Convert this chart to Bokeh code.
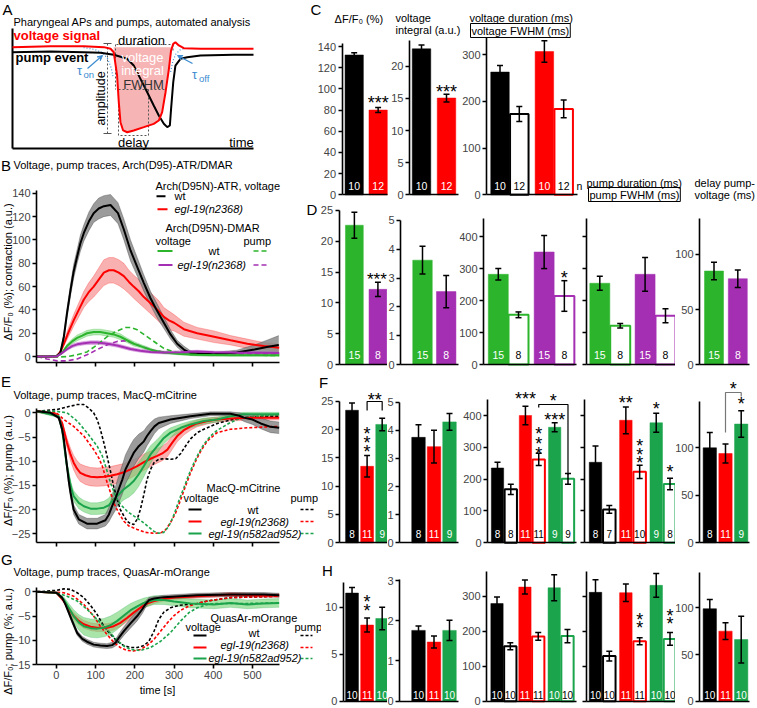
import math
from bokeh.plotting import figure
from bokeh.layouts import row, column
from bokeh.models import Range1d, LinearAxis, FixedTicker, Label, Arrow, VeeHead, ColumnDataSource
from bokeh.embed import file_html
from bokeh.resources import INLINE

# ============================ DATA ============================
# A: schematic (time a.u., signal a.u.)
sch_volt_t = [0, 15.8, 29.6, 37.9, 40.7, 42.0, 43.4, 44.1, 44.8, 45.9, 47.6, 50.3, 54.5, 58.6, 60.7, 62.1, 63.5, 64.9, 65.8, 66.7, 67.6, 69.0, 71.1, 78.0, 100]
sch_volt = [85.9, 86.7, 86.7, 85.9, 84.5, 81.6, 61.9, 39.3, 22.3, 15.3, 13.8, 15.3, 18.1, 20.9, 23.7, 30.8, 47.7, 67.5, 83.1, 88.7, 90.1, 87.3, 85.0, 84.5, 84.5]
sch_pump_t = [0, 15.8, 29.6, 36.5, 42.0, 47.6, 50.3, 53.1, 55.9, 58.6, 60.7, 62.8, 64.2, 65.3, 65.8, 66.7, 67.6, 69.7, 72.5, 78.0, 91.8, 100]
sch_pump = [81.6, 82.2, 81.6, 81.1, 79.4, 76.0, 70.3, 59.0, 47.7, 36.4, 28.0, 20.9, 18.1, 19.5, 33.6, 56.2, 70.3, 76.0, 77.4, 78.8, 79.4, 79.4]
tau_on_t = [29.5, 34, 37.5, 39.5, 41, 41.8]
tau_on_s = [85.5, 84, 81, 76, 68, 60]
tau_off_t = [65.6, 66.5, 67.8, 69.5, 71.5]
tau_off_s = [65, 74, 80, 83.5, 85]

time_ticks = [0, 100, 200, 300, 400, 500]

# B: Arch(D95N) traces
b_wt_atr_t = [-50, -20, 0, 10, 19, 27, 36, 44, 53, 61, 70, 83, 95, 108, 121, 138, 157, 172, 189, 206, 223, 240, 257, 274, 291, 308, 325, 342, 400, 460, 505, 540, 567]
b_wt_atr = [0, 0, 0.5, 3, 17, 37, 57, 73, 86, 97, 106, 116, 123, 127, 129, 130, 123, 109, 91, 77, 63, 50, 39, 29, 19, 11, 6, 3, 2, 3.5, 6, 8.5, 10]
b_wt_atr_sem = [0.5, 0.5, 0.5, 1, 3, 4, 5, 6, 6, 7, 7, 8, 8, 9, 9, 9, 9, 9, 9, 8, 7, 6, 6, 5, 4, 3, 3, 2, 1.5, 2, 4, 6, 8]
b_egl_atr_t = [-50, 0, 10, 19, 31, 44, 57, 70, 82, 95, 108, 121, 134, 146, 159, 172, 185, 197, 210, 223, 236, 249, 261, 274, 287, 300, 325, 359, 402, 444, 487, 529, 568]
b_egl_atr = [0, 0, 4, 11, 21, 31, 40, 49, 55, 60, 66, 72, 74, 74, 72, 69, 64, 60, 56, 51, 47, 43, 39, 34, 31, 29, 23.5, 20, 17, 14, 11, 9, 7.5]
b_egl_atr_sem = [0.5, 0.5, 1, 2, 4, 5, 6, 7, 8, 9, 10, 11, 11, 11, 11, 11, 10, 10, 10, 9, 9, 9, 9, 8, 8, 7, 6, 5, 5, 4, 4, 3, 3]
b_wt_dmar_v_t = [-50, 0, 14, 27, 40, 53, 66, 78, 95, 112, 129, 146, 163, 180, 197, 214, 231, 249, 274, 317, 359, 444, 568]
b_wt_dmar_v = [0, 0, 3, 9, 13, 16, 18, 20, 21, 21, 20, 19, 17, 14, 11, 9, 7, 5, 3.5, 2.3, 1.5, 1.2, 1.2]
b_wt_dmar_v_sem = [0.3, 0.3, 1, 1.5, 2, 2.5, 2.5, 2.5, 2.5, 2.5, 2.5, 2.5, 2.5, 2, 2, 1.5, 1.5, 1, 1, 1, 1, 1, 1]
b_wt_dmar_p_t = [-49, 0, 27, 53, 78, 104, 129, 155, 176, 189, 206, 223, 240, 257, 274, 300, 334, 402, 568]
b_wt_dmar_p = [0, -0.5, 0, 1.5, 4, 10, 17, 22, 25, 25, 23, 19, 15, 11, 7, 4, 2.3, 1.4, 1]
b_egl_dmar_v_t = [-50, 0, 14, 27, 40, 53, 70, 87, 104, 121, 138, 155, 172, 189, 214, 240, 274, 317, 359, 402, 444, 568]
b_egl_dmar_v = [0, 0, 3, 6.3, 9, 10.5, 11.5, 12, 12, 11.5, 10.5, 9.5, 8, 6.5, 5, 4, 3.5, 3.7, 4.3, 3.7, 3.5, 3]
b_egl_dmar_v_sem = [0.3, 0.3, 0.8, 1.2, 1.5, 1.5, 1.5, 1.6, 1.6, 1.6, 1.5, 1.5, 1.5, 1.4, 1.3, 1.2, 1.2, 1.2, 1.2, 1.1, 1.1, 1.0]
b_egl_dmar_p_t = [-49, -24, 2, 27, 53, 78, 104, 129, 155, 172, 189, 214, 240, 274, 317, 402, 568]
b_egl_dmar_p = [0, -2, -3.7, -3.7, -2, 1.5, 6, 10, 13, 13.5, 12, 9, 6, 3.7, 2.5, 2.3, 2.3]

# E: MacQ-mCitrine traces
e_wt_v_t = [-49, -15, 6, 14.5, 19, 23, 27, 31.5, 36, 44, 57, 78, 104, 125, 134, 142, 151, 159, 168, 176, 189, 197, 210, 223, 231, 240, 250, 261, 291, 342, 393, 444, 466, 478, 500, 521, 546, 568]
e_wt_v = [0.3, 0, -1, -3.4, -5.5, -8.3, -11, -14.1, -16.5, -20, -22, -22.9, -22.9, -22.2, -21, -19.3, -17.6, -15.8, -13.8, -11.7, -9.6, -8.3, -6.9, -5.9, -4.8, -3.8, -2.8, -2.1, -1.4, -0.7, -0.2, -0.2, -0.6, -1, -1.4, -2.2, -2.9, -3.1]
e_wt_v_sem = [0.2, 0.2, 0.3, 0.5, 0.6, 0.7, 0.8, 0.9, 1, 1, 1, 1.1, 1.1, 1.2, 1.5, 2, 2.5, 2.8, 3, 3, 3, 2.8, 2.5, 2.2, 2, 1.8, 1.5, 1.2, 0.8, 0.5, 0.4, 0.4, 0.6, 0.8, 1, 1.1, 1.2, 1.2]
e_n2368_v_t = [-49, 0, 14.5, 27, 36, 44, 53, 61, 74, 87, 104, 121, 138, 155, 172, 189, 206, 223, 240, 257, 270, 283, 295, 308, 325, 342, 359, 385, 410, 444, 495, 568]
e_n2368_v = [0.3, -0.3, -2.1, -6.2, -8.6, -10.3, -11.6, -12.4, -12.9, -13.2, -13.3, -13.2, -13.0, -12.7, -12.3, -11.7, -11.0, -10.2, -9.5, -8.9, -8.4, -7.6, -6.2, -4.8, -3.6, -2.8, -2.2, -1.7, -1.4, -1.2, -1.0, -1.0]
e_n2368_v_sem = [0.2, 0.3, 0.5, 1, 1.3, 1.5, 1.7, 1.8, 1.9, 1.9, 1.9, 1.9, 1.9, 1.9, 1.8, 1.8, 1.7, 1.7, 1.6, 1.5, 1.5, 1.5, 1.4, 1.2, 1, 0.8, 0.7, 0.6, 0.5, 0.5, 0.5, 0.5]
e_n582_v_t = [-49, 6, 14.5, 19, 25.5, 31.5, 37.5, 44, 57, 70, 87, 104, 121, 134, 146, 159, 172, 185, 197, 210, 223, 240, 257, 274, 291, 317, 342, 376, 410, 444, 478, 568]
e_n582_v = [0.3, -0.7, -3.4, -6.2, -10.3, -13.1, -15.5, -17.2, -18.6, -19.3, -19.8, -19.8, -19.6, -19.1, -17.9, -16.9, -15.8, -15.0, -14.1, -12.7, -11.0, -8.6, -6.9, -5.2, -4.1, -3.1, -2.4, -1.7, -1.4, -0.7, -0.3, -0.3]
e_n582_v_sem = [0.2, 0.3, 0.5, 0.6, 0.8, 1, 1, 1.1, 1.2, 1.2, 1.2, 1.2, 1.3, 1.5, 1.8, 2, 2.2, 2.4, 2.5, 2.5, 2.2, 1.8, 1.4, 1.2, 1, 0.8, 0.7, 0.6, 0.5, 0.5, 0.4, 0.4]
e_wt_p_t = [-49, 2, 27, 53, 70, 82, 95, 104, 112, 121, 129, 138, 146, 155, 163, 172, 180, 189, 197, 206, 214, 223, 231, 240, 249, 261, 274, 291, 304, 317, 329, 342, 359, 376, 410, 444, 478, 529, 568]
e_wt_p = [0.3, 0.7, 1.2, 1.7, 1.7, 1.0, 0, -1.4, -3.4, -6.2, -8.9, -12.1, -15.2, -17.9, -20, -21.3, -22.4, -22.9, -23.1, -22.0, -20, -16.9, -13.8, -11.7, -10.3, -9.6, -9.5, -9.6, -9.5, -8.4, -6.9, -5.4, -4.1, -3.4, -2.2, -1.5, -1.0, -0.7, -0.7]
e_n2368_p_t = [-49, 0, 19, 44, 70, 95, 108, 117, 127, 138, 148, 159, 172, 185, 206, 227, 249, 266, 278, 291, 304, 317, 329, 342, 355, 368, 385, 410, 444, 487, 568]
e_n2368_p = [0.3, 0, -1.4, -2.8, -4.8, -7.6, -9.3, -11.0, -13.8, -16.5, -18.9, -20.7, -22.4, -23.4, -24.1, -24.7, -24.9, -24.8, -24.2, -22.7, -20.7, -17.9, -15.2, -12.4, -10.0, -7.9, -5.8, -4.1, -3.4, -3.1, -2.8]
e_n582_p_t = [-49, 0, 27, 53, 78, 104, 117, 128, 138, 151, 163, 180, 197, 214, 231, 249, 261, 274, 287, 300, 312, 325, 338, 351, 363, 376, 393, 410, 427, 444, 461, 478, 529, 568]
e_n582_p = [0.3, 0.3, 0, -1.7, -4.1, -6.9, -8.9, -11.7, -14.5, -17.2, -18.9, -20.3, -21.3, -22.2, -23.3, -24.5, -24.9, -24.7, -23.4, -21.0, -18.2, -15.5, -12.7, -10.3, -8.3, -6.5, -4.8, -3.6, -2.8, -2.0, -1.4, -1.0, -0.6, -0.3]

# G: QuasAr-mOrange traces
g_wt_v_t = [-49, 0, 14.5, 23, 31.5, 40, 53, 66, 78, 95, 112, 129, 142, 151, 159, 172, 189, 206, 219, 227, 236, 249, 274, 317, 359, 444, 529, 568]
g_wt_v = [0, -0.2, -1.2, -2.6, -4.3, -6.0, -8.5, -9.7, -10.3, -10.9, -11.1, -11.2, -11.0, -10.5, -9.5, -8.1, -6.5, -5.0, -3.6, -2.6, -1.7, -1.4, -1.1, -0.9, -0.7, -0.55, -0.55, -0.7]
g_wt_v_sem = [0.1, 0.1, 0.2, 0.3, 0.4, 0.5, 0.5, 0.5, 0.5, 0.5, 0.5, 0.5, 0.6, 0.7, 0.8, 0.9, 1, 1, 0.9, 0.7, 0.5, 0.4, 0.4, 0.4, 0.4, 0.4, 0.4, 0.4]
g_n2368_v_t = [-49, 0, 19, 31.5, 44, 57, 70, 87, 104, 129, 146, 163, 180, 197, 214, 231, 249, 274, 300, 359, 444, 529, 568]
g_n2368_v = [0, -0.2, -1.9, -3.6, -5.0, -6.0, -6.7, -7.2, -7.4, -7.4, -7.1, -6.4, -5.4, -4.3, -3.3, -2.4, -1.9, -1.5, -1.2, -0.9, -0.55, -0.75, -0.75]
g_n2368_v_sem = [0.1, 0.1, 0.3, 0.5, 0.7, 0.8, 0.8, 0.8, 0.8, 0.8, 0.8, 0.8, 0.8, 0.8, 0.7, 0.6, 0.5, 0.4, 0.4, 0.4, 0.4, 0.4, 0.4]
g_n582_v_t = [-49, 0, 19, 31.5, 44, 57, 70, 87, 104, 121, 138, 155, 172, 189, 206, 223, 249, 274, 300, 342, 402, 444, 487, 529, 568]
g_n582_v = [0, -0.2, -1.6, -3.3, -5.0, -6.3, -7.1, -7.5, -7.6, -7.4, -6.9, -6.0, -4.9, -3.8, -3.0, -2.3, -1.7, -1.7, -2.0, -2.4, -2.6, -2.3, -2.6, -2.4, -2.3]
g_n582_v_sem = [0.1, 0.1, 0.5, 0.9, 1.3, 1.6, 1.8, 1.9, 1.9, 1.9, 1.9, 1.8, 1.6, 1.4, 1.2, 1.0, 0.9, 0.9, 0.9, 0.9, 0.9, 0.9, 0.9, 0.9, 0.9]
g_wt_p_t = [-49, 0, 19, 36, 53, 70, 87, 104, 121, 138, 155, 172, 189, 206, 223, 236, 249, 261, 274, 291, 312, 338, 359, 385, 444, 568]
g_wt_p = [0, 0.3, 0.6, 0.5, -0.2, -1.2, -2.8, -4.7, -7.1, -8.8, -10.2, -11.1, -11.5, -11.5, -11.1, -10.2, -8.1, -5.7, -4.2, -3.3, -2.8, -2.6, -2.4, -1.9, -1.2, -0.9]
g_n2368_p_t = [-49, 0, 19, 44, 70, 95, 112, 129, 146, 163, 180, 197, 214, 231, 249, 266, 283, 300, 317, 334, 359, 385, 444, 568]
g_n2368_p = [0, -0.1, -0.2, -0.9, -2.6, -5.0, -7.1, -8.8, -10.4, -11.5, -12.1, -12.2, -11.9, -11.1, -9.8, -8.1, -6.4, -4.9, -3.8, -3.1, -2.4, -1.9, -1.2, -0.9]
g_n582_p_t = [-49, 0, 27, 53, 78, 104, 129, 155, 172, 189, 214, 240, 266, 291, 317, 338, 359, 385, 410, 444, 487, 568]
g_n582_p = [0, -0.2, -0.9, -1.9, -3.6, -5.7, -7.8, -10.0, -11.2, -11.9, -12.1, -11.5, -10.2, -8.4, -6.0, -4.3, -3.3, -2.6, -2.4, -2.4, -2.4, -2.3]

# C: Arch(D95N)-ATR bars (wt, egl-19(n2368))
c_dff = [132, 80]
c_dff_sem = [2, 2.4]
c_int = [22.7, 15.05]
c_int_sem = [0.6, 0.6]
c_dur = [263, 173, 307, 184]          # duration, FWHM (wt), duration, FWHM (egl-19)
c_dur_sem = [14, 16, 23, 19]
c_n = [10, 12]
c_dur_n = [10, 12, 10, 12]
c_dff_ticks = [0, 20, 40, 60, 80, 100, 120, 140]
c_int_ticks = [0, 5, 10, 15, 20]
c_dur_ticks = [0, 100, 200, 300]

# D: Arch(D95N)-DMAR bars (wt, egl-19(n2368))
d_dff = [22.6, 12.2]
d_dff_sem = [2.1, 1.15]
d_int = [3.62, 2.53]
d_int_sem = [0.48, 0.56]
d_vdur = [283, 156, 353, 215]
d_vdur_sem = [18, 9, 52, 48]
d_pdur = [255, 122, 283, 153]
d_pdur_sem = [22, 7, 53, 22]
d_delay = [85, 78]
d_delay_sem = [8, 8]
d_n = [15, 8]
d_dur_n = [15, 8, 15, 8]
d_dff_ticks = [0, 5, 10, 15, 20, 25]
d_int_ticks = [0, 1, 2, 3, 4, 5]
d_dur_ticks = [0, 100, 200, 300, 400]
delay_ticks = [0, 50, 100]

# F: MacQ-mCitrine bars (wt, n2368, n582ad952)
f_dff = [23.4, 13.5, 20.9]
f_dff_sem = [1.3, 1.9, 1.1]
f_int = [3.75, 3.42, 4.3]
f_int_sem = [0.45, 0.58, 0.3]
f_vdur = [235, 168, 400, 262, 363, 201]
f_vdur_sem = [18, 16, 29, 19, 14, 17]
f_pdur = [253, 105, 385, 223, 377, 185]
f_pdur_sem = [51, 12, 42, 21, 30, 18]
f_delay = [100, 94, 125]
f_delay_sem = [16, 10, 14]
f_n = [8, 11, 9]
f_vdur_n = [8, 8, 11, 11, 9, 9]
f_pdur_n = [8, 7, 11, 10, 9, 8]
f_dff_ticks = [0, 5, 10, 15, 20, 25]
f_int_ticks = [0, 1, 2, 3, 4, 5]
f_dur_ticks = [0, 100, 200, 300, 400]

# H: QuasAr-mOrange bars (wt, n2368, n582ad952)
h_dff = [11.5, 8.1, 8.8]
h_dff_sem = [0.6, 0.75, 1.2]
h_int = [1.76, 1.47, 1.76]
h_int_sem = [0.11, 0.15, 0.25]
h_vdur = [279, 157, 326, 185, 324, 186]
h_vdur_sem = [19, 10, 20, 11, 37, 19]
h_pdur = [311, 129, 310, 171, 331, 178]
h_pdur_sem = [36, 14, 25, 10, 34, 18]
h_delay = [99, 75, 66]
h_delay_sem = [10, 9, 25]
h_n = [10, 11, 10]
h_dur_n = [10, 10, 11, 11, 10, 10]
h_dff_ticks = [0, 5, 10]
h_int_ticks = [0, 1, 2, 3]
h_dur_ticks = [0, 100, 200, 300]

# ============================ STYLE / GEOMETRY ============================
SX = 756.0 / 757.0
SY = 707.0 / 708.0
FONT = "Liberation Sans"
AXW = 1.6
BLACK = "#000000"
RED = "#fe0000"
GREEN_B = "#2cb52c"
GREEN_F = "#1ba44c"
MAG = "#a52fb2"
BLUE = "#3b8bd0"


def X(v):
    return int(round(v * SX))


def Y(v):
    return int(round(v * SY))


def fs(px):
    return "%.1fpx" % px


class Panel:
    """A figure whose frame fills its whole box; xcal / ycal map reference pixels to data."""
    def __init__(self, box, xcal, ycal):
        x0, y0, x1, y1 = box
        (pa, va), (pb, vb) = xcal
        (qa, wa), (qb, wb) = ycal
        self.kx = (vb - va) / float(pb - pa)
        self.pa, self.va = pa, va
        self.ky = (wb - wa) / float(qb - qa)
        self.qa, self.wa = qa, wa
        self.p = figure(width=X(x1) - X(x0), height=Y(y1) - Y(y0),
                        x_range=Range1d(self.dx(x0), self.dx(x1)),
                        y_range=Range1d(self.dy(y1), self.dy(y0)),
                        x_axis_type=None, y_axis_type=None, toolbar_location=None,
                        output_backend="svg", title=None, frame_align=False,
                        min_border_left=0, min_border_right=0,
                        min_border_top=0, min_border_bottom=0)
        self.p.outline_line_color = None

    def dx(self, px):
        return self.va + (px - self.pa) * self.kx

    def dy(self, py):
        return self.wa + (py - self.qa) * self.ky


def txt(pn, px, py, text, size=11.0, align="left", color="black", style="normal",
        angle=0.0, baseline="middle", **kw):
    pn.p.add_layout(Label(x=pn.dx(px), y=pn.dy(py), text=text, text_font=FONT,
                          text_font_size=fs(size), text_align=align, text_baseline=baseline,
                          text_color=color, text_font_style=style, angle=angle, **kw))


def star(pn, px, py, s, size=18.0):
    txt(pn, px, py + 0.27 * size, s, size=size, align="center", baseline="alphabetic")


def pline(pn, pts, color="black", width=1.2, dash="solid", alpha=1.0):
    pn.p.line([pn.dx(a) for a, b in pts], [pn.dy(b) for a, b in pts],
              line_color=color, line_width=width, line_dash=dash, line_alpha=alpha)


def yaxis(pn, at_px, ticks, lo, hi, labels=True, size=11.0):
    ax = LinearAxis(fixed_location=pn.dx(at_px), ticker=FixedTicker(ticks=ticks), bounds=(lo, hi),
                    major_tick_out=4, major_tick_in=0, major_label_standoff=2,
                    axis_line_width=AXW, major_tick_line_width=AXW,
                    major_label_text_font=FONT, major_label_text_font_size=fs(size),
                    minor_tick_line_color=None)
    if not labels:
        ax.major_label_text_color = None
    pn.p.add_layout(ax, "left")


def xaxis(pn, at_py, ticks, lo, hi, labels=False, size=11.0):
    ax = LinearAxis(fixed_location=pn.dy(at_py), ticker=FixedTicker(ticks=ticks), bounds=(lo, hi),
                    major_tick_out=4 if ticks else 0, major_tick_in=0, major_label_standoff=2,
                    axis_line_width=AXW, major_tick_line_width=AXW,
                    major_label_text_font=FONT, major_label_text_font_size=fs(size),
                    minor_tick_line_color=None)
    if not labels:
        ax.major_label_text_color = None
    pn.p.add_layout(ax, "below")


def trace(pn, t, v, sem=None, color="black", band=None, alpha=0.6, dash="solid", width=2.0):
    if sem is not None:
        lo = [a - b for a, b in zip(v, sem)]
        hi = [a + b for a, b in zip(v, sem)]
        pn.p.varea(x=t, y1=lo, y2=hi, fill_color=band, fill_alpha=alpha)
        pn.p.line(t, lo, line_color=color, line_alpha=0.3, line_width=0.8)
        pn.p.line(t, hi, line_color=color, line_alpha=0.3, line_width=0.8)
    else:
        pn.p.line(t, v, line_color=color, line_width=width, line_dash=dash)


def trace_line(pn, t, v, color, width=2.0):
    pn.p.line(t, v, line_color=color, line_width=width)


def bar_panel(box, axis_px, end_px, zero_py, cal, c0, slot, pos, bw, vals, sems, kinds,
              cols, ns, ticks, ytop_py, labels=True, n_off=9.0, n_size=10.5):
    pn = Panel(box, ((c0, 0.0), (c0 + slot, 1.0)), ((zero_py, 0.0), cal))
    p = pn.p
    yaxis(pn, axis_px, ticks, 0, pn.dy(ytop_py), labels=labels)
    xaxis(pn, zero_py, [], pn.dx(axis_px), pn.dx(end_px))
    src = ColumnDataSource(dict(
        x=pos, top=vals,
        fc=[c if k == "f" else "white" for c, k in zip(cols, kinds)],
        lc=cols,
        lw=[0.5 if k == "f" else 2.0 for k in kinds]))
    p.vbar(x="x", top="top", bottom=0, width=bw / slot, fill_color="fc", line_color="lc",
           line_width="lw", source=src)
    lo = [v - e for v, e in zip(vals, sems)]
    hi = [v + e for v, e in zip(vals, sems)]
    p.segment(x0=pos, y0=lo, x1=pos, y1=hi, line_color="black", line_width=1.5)
    cw = 3.0 / slot
    for yy in (lo, hi):
        p.segment(x0=[x - cw for x in pos], y0=yy, x1=[x + cw for x in pos], y1=yy,
                  line_color="black", line_width=1.5)
    for i, n in enumerate(ns):
        txt(pn, c0 + pos[i] * slot, zero_py - n_off, str(n), size=n_size, align="center",
            color="white" if kinds[i] == "f" else "black")
    pn.c0 = c0
    pn.slot = slot
    pn.pos = pos
    return pn


def bx(pn, i):
    return pn.c0 + pn.pos[i] * pn.slot


POS2 = [0, 1]
POS3 = [0, 1, 2]

# ============================ PANEL A ============================
A = Panel((0, 0, 300, 152), ((12, 0), (253, 100)), ((148, 0), (30, 100)))
pa = A.p
pa.varea(x=sch_volt_t[5:19], y1=sch_volt[5:19], y2=[sch_volt[0]] * 14, fill_color="#f7b4b4")
pa.line([0, 0], [0, A.dy(28)], line_color="black", line_width=2)
pa.line([0, 100], [0, 0], line_color="black", line_width=2)
DOT = "2 2"
GRY = "#555555"
pline(A, [(116, 44), (172.5, 44)], GRY, 1, DOT)
pline(A, [(115, 44), (115, 89)], GRY, 1, DOT)
pline(A, [(172.5, 44), (172.5, 50)], GRY, 1, DOT)
pline(A, [(118, 89), (165, 89)], GRY, 1, DOT)
pline(A, [(118, 89), (118, 135), (148, 135), (148, 89)], GRY, 1, DOT)
pline(A, [(107, 43), (107, 133)], GRY, 1, DOT)
pline(A, [(103, 43), (111, 43)], GRY, 1)
pline(A, [(103, 133), (111, 133)], GRY, 1)
txt(A, 142, 57, "voltage", 13, "center", "white")
txt(A, 142, 70, "integral", 13, "center", "white")
txt(A, 143, 84, "FWHM", 13, "center", "#333333")
pa.line(tau_on_t, tau_on_s, line_color=BLUE, line_width=1.2, line_dash="1 2")
pa.line(tau_off_t, tau_off_s, line_color=BLUE, line_width=1.2, line_dash="1 2")
pa.line(sch_pump_t, sch_pump, line_color="black", line_width=2)
pa.line(sch_volt_t, sch_volt, line_color=RED, line_width=2)
pa.add_layout(Arrow(end=VeeHead(size=5, line_color=BLUE, fill_color=BLUE, line_width=1),
                    x_start=A.dx(87), y_start=A.dy(68), x_end=A.dx(102), y_end=A.dy(55),
                    line_color=BLUE, line_width=1.2))
pa.add_layout(Arrow(end=VeeHead(size=5, line_color=BLUE, fill_color=BLUE, line_width=1),
                    x_start=A.dx(192), y_start=A.dy(63), x_end=A.dx(177), y_end=A.dy(55),
                    line_color=BLUE, line_width=1.2))
txt(A, 2, 8.5, "A", 15)
txt(A, 13, 21, "Pharyngeal APs and pumps, automated analysis", 11)
txt(A, 13, 35, "voltage signal", 13, color=RED, style="bold")
txt(A, 15, 57, "pump event", 13, style="bold")
txt(A, 141, 40, "duration", 13, "center")
txt(A, 100, 98, "amplitude", 12.5, "center", angle=math.pi / 2)
txt(A, 133, 142, "delay", 13, "center")
txt(A, 241, 142, "time", 13, "center")
txt(A, 79, 70, "\u03c4", 13, "center", BLUE)
txt(A, 83, 74, "on", 9.5, "left", BLUE)
txt(A, 194, 74, "\u03c4", 13, "center", BLUE)
txt(A, 198.5, 78, "off", 9.5, "left", BLUE)

# ============================ PANEL B ============================
B = Panel((0, 152, 300, 375), ((55.9, 0), (252, 500)), ((357, 0), (193, 140)))
yaxis(B, 36, [0, 20, 40, 60, 80, 100, 120, 140], B.dy(363), B.dy(190))
xaxis(B, 363, time_ticks, B.dx(36), 568)
trace(B, b_egl_atr_t, b_egl_atr, b_egl_atr_sem, RED, "#f47070", 0.55)
trace(B, b_wt_atr_t, b_wt_atr, b_wt_atr_sem, BLACK, "#8a8a8a", 0.85)
trace(B, b_wt_dmar_v_t, b_wt_dmar_v, b_wt_dmar_v_sem, GREEN_B, "#7fd87f", 0.6)
trace(B, b_egl_dmar_v_t, b_egl_dmar_v, b_egl_dmar_v_sem, MAG, "#c97bd3", 0.6)
trace(B, b_wt_dmar_p_t, b_wt_dmar_p, None, GREEN_B, dash="5 3", width=1.6)
trace(B, b_egl_dmar_p_t, b_egl_dmar_p, None, MAG, dash="5 3", width=1.6)
trace_line(B, b_egl_atr_t, b_egl_atr, RED)
trace_line(B, b_wt_atr_t, b_wt_atr, BLACK)
trace_line(B, b_wt_dmar_v_t, b_wt_dmar_v, GREEN_B)
trace_line(B, b_egl_dmar_v_t, b_egl_dmar_v, MAG)
txt(B, 0.5, 165, "B", 15)
txt(B, 13, 165, "Voltage, pump traces, Arch(D95)-ATR/DMAR", 11)
txt(B, 7, 272, "\u0394F/F\u2080 (%); contraction (a.u.)", 11, "center", angle=math.pi / 2)
txt(B, 155, 186, "Arch(D95N)-ATR, voltage", 11)
pline(B, [(156, 196), (165, 196)], BLACK, 2)
txt(B, 174, 196, "wt", 11)
pline(B, [(157, 209), (167, 209)], RED, 2)
txt(B, 174, 209, "egl-19(n2368)", 11, style="italic")
txt(B, 165, 228, "Arch(D95N)-DMAR", 11)
txt(B, 155, 241, "voltage", 11)
txt(B, 243, 241, "pump", 11)
pline(B, [(157, 251), (172, 251)], GREEN_B, 2)
txt(B, 208, 251, "wt", 11)
pline(B, [(253, 251), (268, 251)], GREEN_B, 1.6, "5 3")
pline(B, [(158, 265), (172, 265)], MAG, 2)
txt(B, 177, 265, "egl-19(n2368)", 11, style="italic")
pline(B, [(253, 265), (268, 265)], MAG, 1.6, "5 3")

# ============================ PANEL E ============================
E = Panel((0, 375, 318, 550), ((55.9, 0), (252, 500)), ((413.3, 0), (534.3, -25)))
yaxis(E, 36, [0, -5, -10, -15, -20, -25], E.dy(543), E.dy(409))
xaxis(E, 543, time_ticks, E.dx(36), 568)
trace(E, e_n2368_v_t, e_n2368_v, e_n2368_v_sem, RED, "#f47070", 0.55)
trace(E, e_n582_v_t, e_n582_v, e_n582_v_sem, GREEN_F, "#6fd36f", 0.6)
trace(E, e_wt_v_t, e_wt_v, e_wt_v_sem, BLACK, "#8a8a8a", 0.85)
trace(E, e_wt_p_t, e_wt_p, None, BLACK, dash="3 2", width=1.6)
trace(E, e_n2368_p_t, e_n2368_p, None, RED, dash="3 2", width=1.6)
trace(E, e_n582_p_t, e_n582_p, None, GREEN_F, dash="3 2", width=1.6)
trace_line(E, e_n2368_v_t, e_n2368_v, RED)
trace_line(E, e_n582_v_t, e_n582_v, GREEN_F)
trace_line(E, e_wt_v_t, e_wt_v, BLACK)
txt(E, 0.5, 382, "E", 15)
txt(E, 13, 395, "Voltage, pump traces, MacQ-mCitrine", 11)
txt(E, 7, 471, "\u0394F/F\u2080 (%); pump (a.u.)", 11, "center", angle=math.pi / 2)
txt(E, 206, 488, "MacQ-mCitrine", 11)
txt(E, 183, 498, "voltage", 11)
txt(E, 290, 498, "pump", 11)
for yy, col, lab, lx in ((510, BLACK, "wt", 247), (522, RED, "egl-19(n2368)", 220),
                         (534, GREEN_F, "egl-19(n582ad952)", 208)):
    pline(E, [(188, yy), (201, yy)], col, 2)
    pline(E, [(300, yy), (315, yy)], col, 1.6, "3 2")
    txt(E, lx, yy, lab, 11, style="normal" if lab == "wt" else "italic")

# ============================ PANEL G ============================
G = Panel((0, 550, 321, 708), ((55.9, 0), (252, 500)), ((592.3, 0), (665, -15)))
yaxis(G, 36, [0, -5, -10, -15], -15, G.dy(588))
xaxis(G, 665, time_ticks, G.dx(36), 568, labels=True)
trace(G, g_n2368_v_t, g_n2368_v, g_n2368_v_sem, RED, "#f47070", 0.55)
trace(G, g_n582_v_t, g_n582_v, g_n582_v_sem, GREEN_F, "#6fd36f", 0.6)
trace(G, g_wt_v_t, g_wt_v, g_wt_v_sem, BLACK, "#8a8a8a", 0.85)
trace(G, g_wt_p_t, g_wt_p, None, BLACK, dash="3 2", width=1.6)
trace(G, g_n2368_p_t, g_n2368_p, None, RED, dash="3 2", width=1.6)
trace(G, g_n582_p_t, g_n582_p, None, GREEN_F, dash="3 2", width=1.6)
trace_line(G, g_n2368_v_t, g_n2368_v, RED)
trace_line(G, g_n582_v_t, g_n582_v, GREEN_F)
trace_line(G, g_wt_v_t, g_wt_v, BLACK)
txt(G, 0.5, 560, "G", 15)
txt(G, 13, 572, "Voltage, pump traces, QuasAr-mOrange", 11)
txt(G, 7, 642, "\u0394F/F\u2080; pump (%; a.u.)", 11, "center", angle=math.pi / 2)
txt(G, 157, 690, "time [s]", 11, "center")
txt(G, 210, 618, "QuasAr-mOrange", 11)
txt(G, 185, 627, "voltage", 11)
txt(G, 294, 627, "pump", 11)
for yy, ty, col, lab, lx in ((636, 633, BLACK, "wt", 248), (648, 645, RED, "egl-19(n2368)", 220),
                             (659, 658, GREEN_F, "egl-19(n582ad952)", 208)):
    pline(G, [(193, yy), (206, yy)], col, 2)
    pline(G, [(300, yy), (312, yy)], col, 1.6, "3 2")
    txt(G, lx, ty, lab, 11, style="normal" if lab == "wt" else "italic")

# ============================ PANEL C ============================
C1 = bar_panel((300, 0, 391, 202), 342, 388, 194.3, (46, 140), 354.3, 24.2, POS2, 18.5,
               c_dff, c_dff_sem, "ff", [BLACK, RED], c_n, c_dff_ticks, 43)
C2 = bar_panel((391, 0, 462, 202), 410, 459, 194.3, (65.7, 20), 422, 25, POS2, 18.5,
               c_int, c_int_sem, "ff", [BLACK, RED], c_n, c_int_ticks, 40)
C3 = bar_panel((462, 0, 757, 202), 487, 578, 194.3, (54.3, 300), 500.5, 19.3, [0, 1, 2.3, 3.3], 18.5,
               c_dur, c_dur_sem, "fofo", [BLACK, BLACK, RED, RED], c_dur_n, c_dur_ticks, 37)
txt(C1, 310, 8.5, "C", 15)
txt(C1, 359, 18, "\u0394F/F\u2080 (%)", 11, "center")
star(C1, bx(C1, 1), 98, "***")
txt(C2, 396, 17, "voltage", 11)
txt(C2, 396, 29, "integral (a.u.)", 11)
star(C2, bx(C2, 1), 87, "***")
txt(C3, 470, 17, "voltage duration (ms)", 11)
txt(C3, 471, 30, "voltage FWHM (ms)", 11, border_line_color="black", border_line_width=1, padding=1)
txt(C3, 580, 185, "n", 10.5, "center")
txt(C3, 587, 182, "pump duration (ms)", 11)
txt(C3, 589, 194, "pump FWHM (ms)", 11, border_line_color="black", border_line_width=1, padding=1)
txt(C3, 695, 182, "delay pump-", 11)
txt(C3, 695, 194, "voltage (ms)", 11)

# ============================ PANEL D ============================
D1 = bar_panel((300, 202, 388, 375), 339, 388, 365, (241, 20), 354.5, 23.8, POS2, 18,
               d_dff, d_dff_sem, "ff", [GREEN_B, MAG], d_n, d_dff_ticks, 210, n_off=9.5)
D2 = bar_panel((388, 202, 460, 375), 401, 459, 365, (336, 1), 423, 23.7, POS2, 19.5,
               d_int, d_int_sem, "ff", [GREEN_B, MAG], d_n, d_int_ticks, 220, n_off=9.5)
D3 = bar_panel((460, 202, 579, 375), 484, 577, 365, (236.7, 400), 498.8, 20.2, [0, 1, 2.27, 3.27], 20,
               d_vdur, d_vdur_sem, "fofo", [GREEN_B, GREEN_B, MAG, MAG], d_dur_n, d_dur_ticks, 218,
               n_off=9.5)
D4 = bar_panel((579, 202, 676, 375), 587, 676, 365, (236.7, 400), 600.3, 20.4, [0, 1, 2.22, 3.22], 20,
               d_pdur, d_pdur_sem, "fofo", [GREEN_B, GREEN_B, MAG, MAG], d_dur_n, d_dur_ticks, 218,
               labels=False, n_off=9.5)
D5 = bar_panel((676, 202, 757, 375), 700, 750, 365, (254.3, 100), 714.5, 23.8, POS2, 19,
               d_delay, d_delay_sem, "ff", [GREEN_B, MAG], d_n, delay_ticks, 218, n_off=9.5)
txt(D1, 306, 209, "D", 15)
star(D1, bx(D1, 1) - 1, 275, "***", size=17)
star(D3, bx(D3, 3), 273, "*")

# ============================ PANEL F ============================
F1 = bar_panel((318, 375, 388, 550), 339.3, 388, 543.3, (401.7, 25), 352, 15.3, POS3, 13,
               f_dff, f_dff_sem, "fff", [BLACK, RED, GREEN_F], f_n, f_dff_ticks, 401.7, n_off=9.3, n_size=10)
F2 = bar_panel((388, 375, 460, 550), 400, 459, 543.3, (402.7, 5), 419, 15.5, POS3, 13.5,
               f_int, f_int_sem, "fff", [BLACK, RED, GREEN_F], f_n, f_int_ticks, 402.7, n_off=9.3, n_size=10)
F3 = bar_panel((460, 375, 579, 550), 488, 577, 543.3, (416, 400), 498, 13.3, [0, 1, 2.1, 3.1, 4.3, 5.3], 12.3,
               f_vdur, f_vdur_sem, "fofofo", [BLACK, BLACK, RED, RED, GREEN_F, GREEN_F], f_vdur_n,
               f_dur_ticks, 400, n_off=9.3, n_size=10)
F4 = bar_panel((579, 375, 676, 550), 585, 676, 543.3, (416, 400), 596, 13.8, [0, 1, 2.2, 3.2, 4.4, 5.4], 12.5,
               f_pdur, f_pdur_sem, "fofofo", [BLACK, BLACK, RED, RED, GREEN_F, GREEN_F], f_pdur_n,
               f_dur_ticks, 400, labels=False, n_off=9.3, n_size=10)
F5 = bar_panel((676, 375, 757, 550), 700, 750, 543.3, (448.3, 100), 710.3, 15.7, POS3, 13.3,
               f_delay, f_delay_sem, "fff", [BLACK, RED, GREEN_F], f_n, delay_ticks, 401.7, n_off=9.3, n_size=10)
txt(F1, 318.5, 383, "F", 15)
for yy in (430, 439, 448):
    star(F1, bx(F1, 1), yy, "*")
pline(F1, [(bx(F1, 1), 411), (bx(F1, 1), 402), (bx(F1, 2), 402), (bx(F1, 2), 411)], "black", 1.2)
star(F1, 375, 396, "**")
star(F3, bx(F3, 2), 395, "***")
for yy in (430, 440, 450):
    star(F3, bx(F3, 3), yy, "*")
star(F3, bx(F3, 4), 416, "***")
pline(F3, [(bx(F3, 3), 408), (bx(F3, 3), 405), (bx(F3, 5), 405), (bx(F3, 5), 475)], "black", 1.2)
star(F3, (bx(F3, 3) + bx(F3, 5)) / 2, 397, "*")
star(F4, bx(F4, 2), 399, "**")
for yy in (442, 450.5, 459):
    star(F4, bx(F4, 3), yy, "*")
star(F4, bx(F4, 4), 405, "*")
star(F4, bx(F4, 5), 468, "*")
star(F5, bx(F5, 2), 400, "*")
pline(F5, [(bx(F5, 1), 433), (bx(F5, 1), 393), (bx(F5, 2), 393), (bx(F5, 2), 397)], "#777777", 1.2)
star(F5, (bx(F5, 1) + bx(F5, 2)) / 2, 385, "*")

# ============================ PANEL H ============================
H1 = bar_panel((321, 550, 388, 708), 343.3, 388, 701.7, (607.7, 10), 352, 15.3, POS3, 13,
               h_dff, h_dff_sem, "fff", [BLACK, RED, GREEN_F], h_n, h_dff_ticks, 583, n_off=6.3, n_size=10)
H2 = bar_panel((388, 550, 460, 708), 400, 459, 701.7, (581, 3), 419, 15.5, POS3, 13.5,
               h_int, h_int_sem, "fff", [BLACK, RED, GREEN_F], h_n, h_int_ticks, 580, n_off=6.3, n_size=10)
H3 = bar_panel((460, 550, 579, 708), 487, 577, 701.7, (596.7, 300), 497.5, 13.3, [0, 1, 2.1, 3.1, 4.3, 5.3], 12.3,
               h_vdur, h_vdur_sem, "fofofo", [BLACK, BLACK, RED, RED, GREEN_F, GREEN_F], h_dur_n,
               h_dur_ticks, 572, n_off=6.3, n_size=10)
H4 = bar_panel((579, 550, 676, 708), 587, 676, 701.7, (596.7, 300), 596, 13.8, [0, 1, 2.2, 3.2, 4.4, 5.4], 12.5,
               h_pdur, h_pdur_sem, "fofofo", [BLACK, BLACK, RED, RED, GREEN_F, GREEN_F], h_dur_n,
               h_dur_ticks, 572, labels=False, n_off=6.3, n_size=10)
H5 = bar_panel((676, 550, 757, 708), 700, 750, 701.7, (608.3, 100), 710.3, 15.7, POS3, 13.3,
               h_delay, h_delay_sem, "fff", [BLACK, RED, GREEN_F], h_n, delay_ticks, 573, n_off=6.3, n_size=10)
txt(H1, 321.5, 571, "H", 15)
for yy in (598, 607):
    star(H1, bx(H1, 1), yy, "*")
for yy in (616, 624):
    star(H4, bx(H4, 3), yy, "*")
for yy in (612, 620):
    star(H4, bx(H4, 5), yy, "*")

# ============================ LAYOUT ============================
left_top = column(A.p, B.p)
right_top = column(row(C1.p, C2.p, C3.p), row(D1.p, D2.p, D3.p, D4.p, D5.p))
top = row(left_top, right_top)
mid = row(E.p, F1.p, F2.p, F3.p, F4.p, F5.p)
bot = row(G.p, H1.p, H2.p, H3.p, H4.p, H5.p)
lay = column(top, mid, bot)

open("out.html", "w").write(file_html(lay, INLINE))
